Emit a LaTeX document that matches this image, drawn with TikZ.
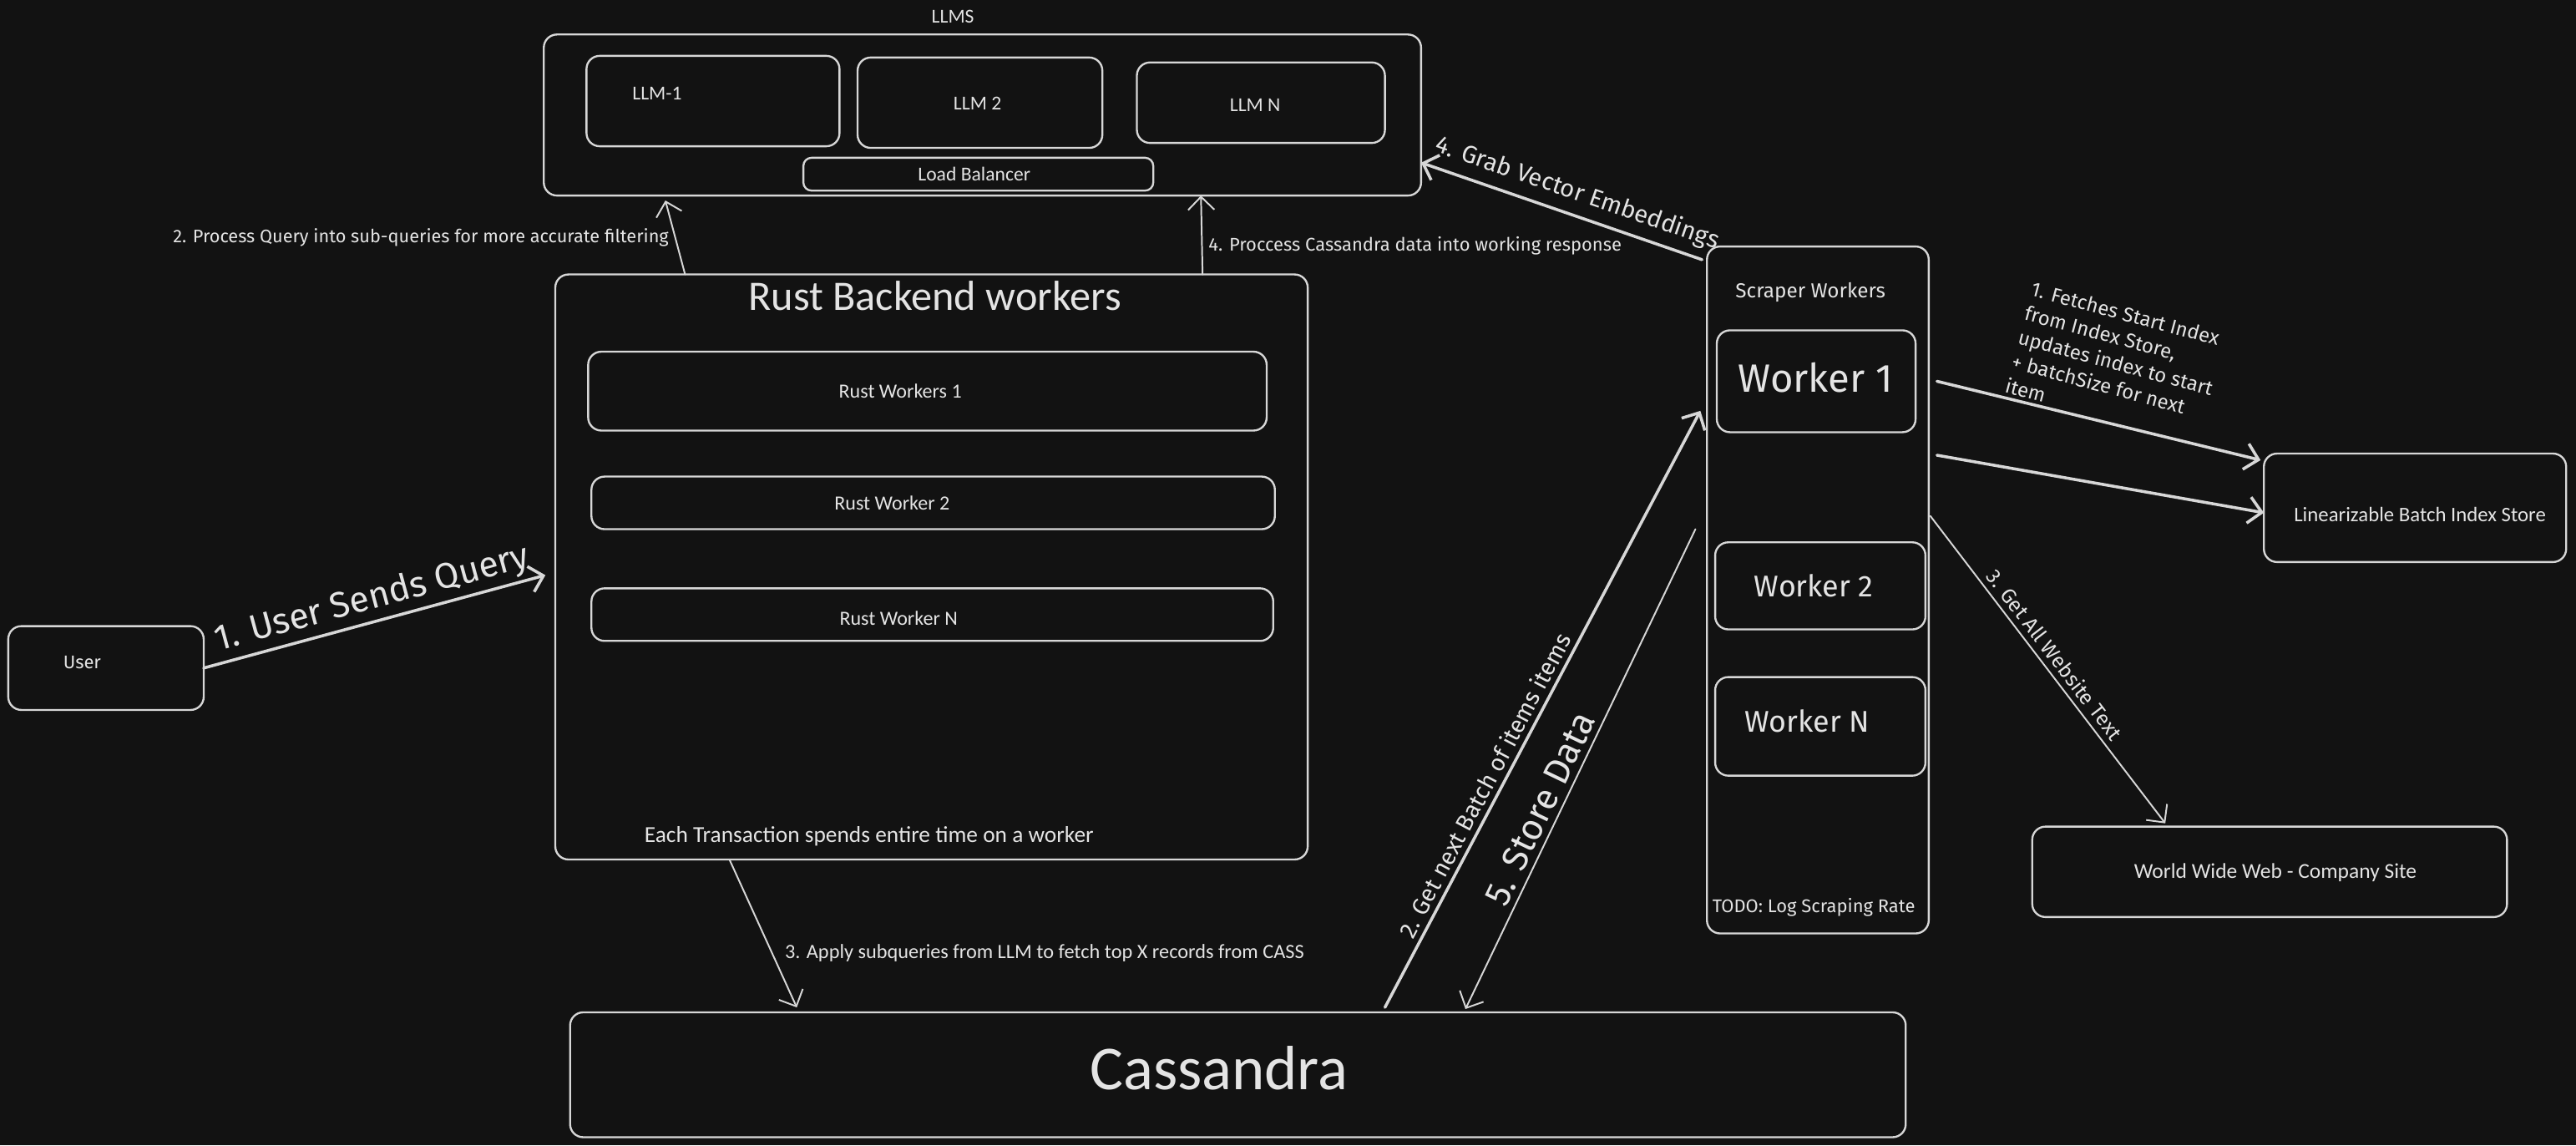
\documentclass[tikz,border=0pt]{standalone}
\usepackage{fontspec}
\setmainfont{Carlito}
\newfontfamily\handfont{Fira Sans}
\usetikzlibrary{arrows.meta}

\begin{document}
\begin{tikzpicture}[x=1pt,y=1pt,
  box/.style={draw=drawColor,line width=0.6pt,rounded corners=4pt,inner sep=0pt,outer sep=0pt},
  txt/.style={text=textColor,inner sep=0pt,outer sep=0pt,font=\fontsize{6}{7.2}\selectfont},
  hand/.style={txt,font=\handfont\fontsize{6}{7.2}\selectfont},
  link/.style={draw=drawColor,line width=0.5pt,line cap=round,-{Straight Barb[length=4pt,width=8pt]}},
  thick link/.style={link,line width=0.9pt}]
\definecolor{bgColor}{RGB}{18,18,18}
\definecolor{drawColor}{RGB}{215,215,215}
\definecolor{textColor}{RGB}{228,228,228}
\path[use as bounding box,fill=bgColor] (0,0) rectangle (784.00,348.50);

% LLMS
\node[txt] (llmstitle) at (290.00,343.50) {LLMS};
\node[box,minimum width=267.0,minimum height=49.0] (llms) at (299.00,313.50) {};
\node[box,minimum width=77.0,minimum height=27.5] (llma) at (217.00,317.75) {};
\node[box,minimum width=74.5,minimum height=27.5] (llmb) at (298.25,317.25) {};
\node[box,minimum width=75.5,minimum height=24.5] (llmn) at (383.75,317.25) {};
\node[box,rounded corners=2.5pt,minimum width=106.5,minimum height=10.0] (lb) at (297.75,295.50) {};
\node[txt] (llmatext) at (200.00,320.00) {LLM-1};
\node[txt] (llmbtext) at (297.50,317.00) {LLM 2};
\node[txt] (llmntext) at (382.00,316.50) {LLM N};
\node[txt] (lbtext) at (296.50,295.50) {Load Balancer};

% Rust backend
\node[box,minimum width=229.0,minimum height=178.0] (rust) at (283.50,176.00) {};
\node[txt,scale=2.13] (rusttitle) at (284.50,258.50) {Rust Backend workers};
\node[box,minimum width=206.5,minimum height=24.0] (rw1) at (282.25,229.50) {};
\node[box,minimum width=208.0,minimum height=16.0] (rw2) at (284.00,195.50) {};
\node[box,minimum width=207.5,minimum height=16.0] (rwn) at (283.75,161.50) {};
\node[txt,scale=1.02] (rw1text) at (274.00,229.50) {Rust Workers 1};
\node[txt,scale=1.02] (rw2text) at (271.50,195.50) {Rust Worker 2};
\node[txt,scale=1.02] (rwntext) at (273.50,160.50) {Rust Worker N};
\node[txt,scale=1.16] (rustnote) at (264.50,94.00) {Each Transaction spends entire time on a worker};

% User
\node[box,minimum width=59.5,minimum height=25.5] (user) at (32.25,145.25) {};
\node[hand,scale=0.93] (usertext) at (25.00,147.00) {User};

% Scraper workers
\node[box,minimum width=67.5,minimum height=209.0] (scraper) at (553.25,169.00) {};
\node[hand,scale=1.03] (scrapertitle) at (551.00,259.50) {Scraper Workers};
\node[box,minimum width=60.5,minimum height=31.0] (sw1) at (552.75,232.50) {};
\node[box,minimum width=64.0,minimum height=26.5] (sw2) at (554.00,170.25) {};
\node[box,minimum width=64.0,minimum height=30.0] (swn) at (554.00,127.50) {};
\node[hand,scale=2.00] (sw1text) at (552.50,233.50) {Worker 1};
\node[hand,scale=1.52] (sw2text) at (552.00,170.25) {Worker 2};
\node[hand,scale=1.52] (swntext) at (550.00,129.00) {Worker N};
\node[hand,scale=0.93] (scrapernote) at (552.00,72.50) {TODO: Log Scraping Rate};

% Stores
\node[box,minimum width=92.0,minimum height=33.0] (lbis) at (735.00,194.00) {};
\node[txt,scale=1.05] (lbistext) at (736.50,192.00) {Linearizable Batch Index Store};
\node[box,minimum width=144.5,minimum height=27.5] (www) at (690.75,83.25) {};
\node[txt,scale=1.08] (wwwtext) at (692.50,83.00) {World Wide Web - Company Site};
\node[box,minimum width=406.5,minimum height=38.0] (cass) at (376.75,21.50) {};
\node[txt,scale=3.17] (casstext) at (371.00,23.50) {Cassandra};

% Connectors
\draw[thick link] (user.east) -- ([xshift=-3pt,yshift=-2.5pt]rust.west)
  node[pos=.51,sloped,above=1.5pt,hand,scale=1.82] (querylbl) {1. User Sends Query};
\draw[link] ([xshift=-75pt]rust.north) -- ([xshift=-96.5pt,yshift=-1.5pt]llms.south)
  node[midway,left=2pt,hand,scale=0.92] (subqlbl) {2. Process Query into sub-queries for more accurate filtering};
\draw[link] ([xshift=82.5pt]rust.north) -- ([xshift=66.5pt]llms.south)
  node[pos=.36,right=2pt,hand,scale=0.93] (resplbl) {4. Proccess Cassandra data into working response};
\draw[thick link] ([xshift=-1.5pt,yshift=-4pt]scraper.north west) -- ([yshift=-14.5pt]llms.east)
  node[pos=.47,sloped,above=3pt,hand,scale=1.24] (embedlbl) {4. Grab Vector Embeddings};
\draw[thick link] ([xshift=6.5pt]sw1.east) -- ([xshift=-1pt,yshift=-2pt]lbis.north west);
\draw[thick link] ([xshift=2.5pt,yshift=41pt]scraper.east) -- ([yshift=-1.5pt]lbis.west);
\node[hand,align=left,rotate=-15,anchor=north west,font=\handfont\fontsize{6.1}{7.6}\selectfont] (fetchlbl) at (619.00,263.00)
  {1. Fetches Start Index\\from Index Store,\\updates index to start\\+ batchSize for next\\item};
\draw[link] ([xshift=.5pt,yshift=22.5pt]scraper.east) -- ([xshift=-31.75pt,yshift=1pt]www.north)
  node[pos=.48,sloped,above=2pt,hand,scale=1.05] (sitelbl) {3. Get All Website Text};
\draw[link] ([xshift=-61.5pt]rust.south) -- ([xshift=-134.25pt,yshift=1.5pt]cass.north)
  node[pos=.63,right=4pt,txt,scale=1.03] (applylbl) {3. Apply subqueries from LLM to fetch top X records from CASS};
\draw[thick link] ([xshift=44.75pt,yshift=1.5pt]cass.north) -- ([xshift=-2pt,yshift=54.5pt]scraper.west)
  node[pos=.36,sloped,above=2pt,hand,scale=1.2] (batchlbl) {2. Get next Batch of items items};
\draw[link] ([xshift=-3.5pt,yshift=18.5pt]scraper.west) -- ([xshift=69.25pt,yshift=1pt]cass.north)
  node[pos=.6,sloped,above=2pt,hand,scale=1.83] (storelbl) {5. Store Data};
\end{tikzpicture}
\end{document}
